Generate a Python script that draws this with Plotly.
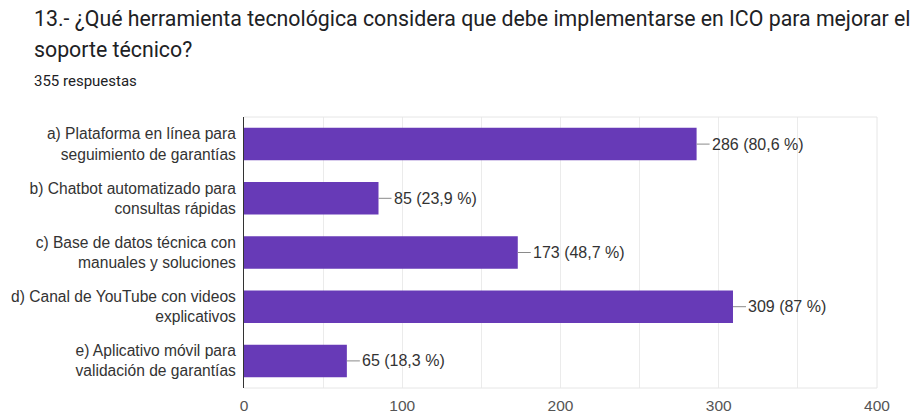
import plotly.graph_objects as go

categories = [
    "a) Plataforma en línea para<br>seguimiento de garantías",
    "b) Chatbot automatizado para<br>consultas rápidas",
    "c) Base de datos técnica con<br>manuales y soluciones",
    "d) Canal de YouTube con videos<br>explicativos",
    "e) Aplicativo móvil para<br>validación de garantías",
]
counts = [286, 85, 173, 309, 65]
percents = ["80,6", "23,9", "48,7", "87", "18,3"]
tick_values = [0, 100, 200, 300, 400]

title_line1 = "13.- ¿Qué herramienta tecnológica considera que debe implementarse en ICO para mejorar el"
title_line2 = "soporte técnico?"
subtitle = "355 respuestas"

W, H = 910, 415
L, R, T, B = 244, 33, 117, 27
plot_w = W - L - R
plot_h = H - T - B


def px_x(x):
    return (x - L) / plot_w


def px_y(y):
    return (H - B - y) / plot_h


BAR = "#673AB7"
TEXT = "#333333"
SANS = "Liberation Sans, Arial, sans-serif"

fig = go.Figure(
    go.Bar(
        x=counts,
        y=categories,
        orientation="h",
        marker=dict(color=BAR, line=dict(width=0)),
        width=0.6,
        hoverinfo="skip",
    )
)

shapes = []
annotations = []
for cat, n, p in zip(categories, counts, percents):
    shapes.append(dict(
        type="line", xref="x", yref="y",
        xsizemode="pixel", xanchor=n, x0=0, x1=13,
        y0=cat, y1=cat,
        line=dict(color="#8a8a8a", width=1),
    ))
    annotations.append(dict(
        xref="x", yref="y", x=n, y=cat, xshift=13,
        text=f"{n} ({p} %)", showarrow=False,
        xanchor="left", yanchor="middle",
        font=dict(family=SANS, size=16, color=TEXT),
    ))

# plot frame (top, right and bottom edges)
for x0, x1, y0, y1 in [(0, 1, 1, 1), (1, 1, 0, 1), (0, 1, 0, 0)]:
    shapes.append(dict(type="line", xref="paper", yref="paper",
                       x0=x0, x1=x1, y0=y0, y1=y1,
                       line=dict(color="#e6e6e6", width=1)))

title_font = dict(family="Roboto, sans-serif", size=21.3, color="#202124")
annotations += [
    dict(xref="paper", yref="paper", x=px_x(32), y=px_y(18), text=title_line1,
         showarrow=False, xanchor="left", yanchor="middle", font=title_font),
    dict(xref="paper", yref="paper", x=px_x(32), y=px_y(49), text=title_line2,
         showarrow=False, xanchor="left", yanchor="middle", font=title_font),
    dict(xref="paper", yref="paper", x=px_x(32), y=px_y(81), text=subtitle,
         showarrow=False, xanchor="left", yanchor="middle",
         font=dict(family="Roboto, sans-serif", size=15, color="#202124")),
]

fig.update_layout(
    width=W, height=H,
    margin=dict(l=L, r=R, t=T, b=B, pad=0, autoexpand=False),
    paper_bgcolor="white", plot_bgcolor="white",
    showlegend=False,
    shapes=shapes,
    annotations=annotations,
    xaxis=dict(
        range=[0, 400],
        tickvals=tick_values,
        ticktext=[str(v) for v in tick_values],
        showgrid=True, gridcolor="#ebebeb", gridwidth=1,
        minor=dict(dtick=50, showgrid=True, gridcolor="#ebebeb", gridwidth=1),
        zeroline=False,
        showline=False,
        ticks="",
        ticklabelstandoff=6,
        tickfont=dict(family=SANS, size=15.5, color="#555555"),
        automargin=False,
        fixedrange=True,
    ),
    yaxis=dict(
        categoryorder="array",
        categoryarray=categories[::-1],
        autorange=False,
        range=[-0.5, len(categories) - 0.5],
        showline=True, linecolor="#333333", linewidth=1,
        ticks="",
        ticklabelstandoff=4,
        tickfont=dict(family=SANS, size=15.6, color=TEXT),
        automargin=False,
        fixedrange=True,
    ),
)

fig.write_html("out.html", config={"displayModeBar": False})
